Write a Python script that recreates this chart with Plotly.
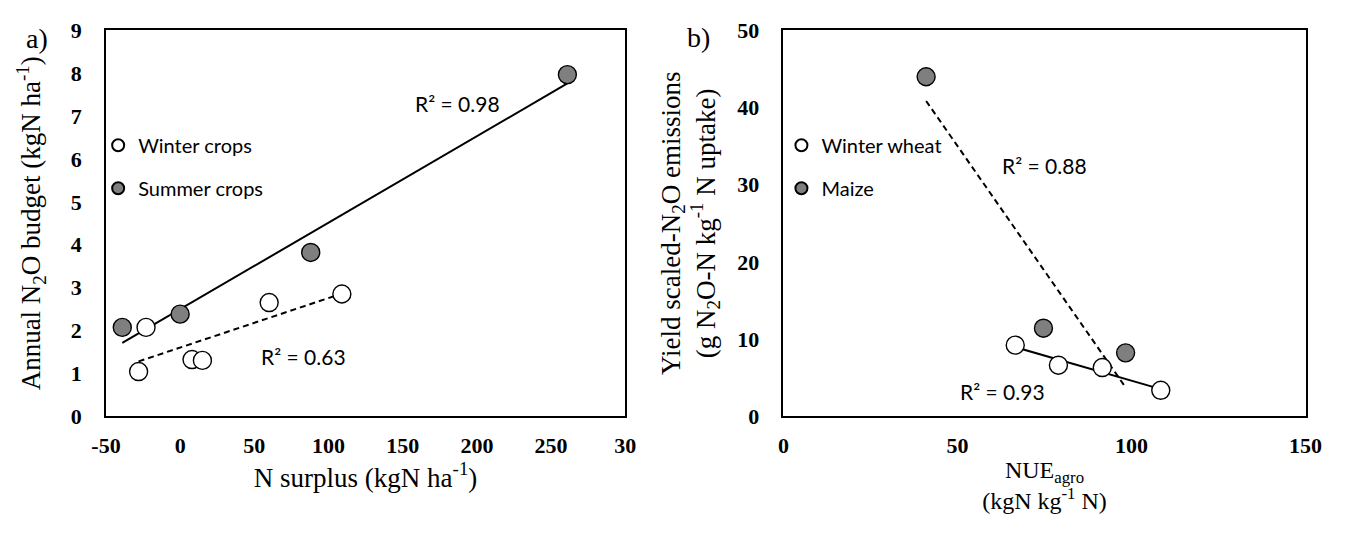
import numpy as np
import plotly.graph_objects as go

# panel a: N surplus vs annual N2O budget
winter_crops_x = [-28, -23, 8, 15, 60, 109]
winter_crops_y = [1.04, 2.07, 1.32, 1.30, 2.65, 2.85]
summer_crops_x = [-39, 0, 88, 261]
summer_crops_y = [2.07, 2.38, 3.82, 7.97]

# panel b: NUE agro vs yield scaled N2O emissions
wheat_x = [66.6, 79, 91.6, 108.4]
wheat_y = [9.2, 6.6, 6.3, 3.35]
maize_x = [41, 74.7, 98.3]
maize_y = [44.0, 11.4, 8.2]

a_xticks = [-50, 0, 50, 100, 150, 200, 250, 300]
a_xticklabels = ['-50', '0', '50', '100', '150', '200', '250', '30']
a_yticks = list(range(0, 10))
b_xticks = [0, 50, 100, 150]
b_yticks = [0, 10, 20, 30, 40, 50]

GREY = '#7f7f7f'
SERIF = 'Liberation Serif'
SANS = 'Lato'

# page has an 8px body margin, so the figure is a bit smaller than the window
W, H = 1339, 523


def fit_line(x, y):
    k, b = np.polyfit(x, y, 1)
    xs = np.array([min(x), max(x)])
    return xs, k * xs + b


fig = go.Figure()

# panel a
xs, ys = fit_line(summer_crops_x, summer_crops_y)
fig.add_trace(go.Scatter(x=xs, y=ys, mode='lines', line=dict(color='black', width=2),
                         showlegend=False, xaxis='x', yaxis='y'))
xs, ys = fit_line(winter_crops_x, winter_crops_y)
fig.add_trace(go.Scatter(x=xs, y=ys, mode='lines', line=dict(color='black', width=2, dash='6px,4px'),
                         showlegend=False, xaxis='x', yaxis='y'))
fig.add_trace(go.Scatter(x=winter_crops_x, y=winter_crops_y, mode='markers', name='Winter crops',
                         marker=dict(size=18, color='white', line=dict(color='black', width=1.4)),
                         xaxis='x', yaxis='y', legend='legend', legendgroup='w'))
fig.add_trace(go.Scatter(x=summer_crops_x, y=summer_crops_y, mode='markers', name='Summer crops',
                         marker=dict(size=18, color=GREY, line=dict(color='black', width=1.4)),
                         xaxis='x', yaxis='y', legend='legend', legendgroup='s'))

# panel b
xs, ys = fit_line(wheat_x, wheat_y)
fig.add_trace(go.Scatter(x=xs, y=ys, mode='lines', line=dict(color='black', width=2),
                         showlegend=False, xaxis='x2', yaxis='y2'))
xs, ys = fit_line(maize_x, maize_y)
fig.add_trace(go.Scatter(x=xs, y=ys, mode='lines', line=dict(color='black', width=2, dash='6px,4px'),
                         showlegend=False, xaxis='x2', yaxis='y2'))
fig.add_trace(go.Scatter(x=wheat_x, y=wheat_y, mode='markers', name='Winter wheat',
                         marker=dict(size=18, color='white', line=dict(color='black', width=1.4)),
                         xaxis='x2', yaxis='y2', legend='legend2', legendgroup='w'))
fig.add_trace(go.Scatter(x=maize_x, y=maize_y, mode='markers', name='Maize',
                         marker=dict(size=18, color=GREY, line=dict(color='black', width=1.4)),
                         xaxis='x2', yaxis='y2', legend='legend2', legendgroup='m'))

axis_style = dict(showline=True, mirror=True, linecolor='black', linewidth=1.5,
                  showgrid=False, zeroline=False, ticks='', ticklabeloverflow='allow',
                  tickfont=dict(family=SERIF, size=22, color='black', weight='bold'))
title_font = dict(family=SERIF, size=27, color='black')

legend_style = dict(font=dict(family=SANS, size=20, color='black'), bgcolor='rgba(0,0,0,0)',
                    traceorder='grouped', tracegroupgap=14, itemsizing='constant',
                    xanchor='left', yanchor='top')

y_dom = [1 - 416 / H, 1 - 11 / H]

fig.update_layout(
    width=W, height=H,
    margin=dict(l=0, r=0, t=0, b=0),
    paper_bgcolor='white', plot_bgcolor='white',
    xaxis=dict(axis_style, domain=[85 / W, 617 / W], range=[-50, 300],
               tickvals=a_xticks, ticktext=a_xticklabels, anchor='y', ticklabelstandoff=9,
               title=dict(text='N surplus (kgN ha<sup>-1</sup>)', font=title_font, standoff=8)),
    yaxis=dict(axis_style, domain=y_dom, range=[0, 9], tickvals=a_yticks,
               anchor='x', ticklabelstandoff=18,
               title=dict(text='Annual N<sub>2</sub>O budget (kgN ha<sup>-1</sup>)', font=title_font, standoff=22)),
    xaxis2=dict(axis_style, domain=[779 / W, 1314 / W], range=[0, 150], tickvals=b_xticks,
                anchor='y2', ticklabelstandoff=9,
                title=dict(text='NUE<sub>agro</sub><br>(kgN kg<sup>-1</sup> N)',
                           font=dict(title_font, size=24), standoff=4)),
    yaxis2=dict(axis_style, domain=y_dom, range=[0, 50], tickvals=b_yticks,
                anchor='x2', ticklabelstandoff=18,
                title=dict(text='Yield scaled-N<sub>2</sub>O emissions<br>(g N<sub>2</sub>O-N kg<sup>-1</sup> N uptake)',
                           font=title_font, standoff=14)),
    legend=dict(legend_style, x=77 / W, y=1 - 111 / H),
    legend2=dict(legend_style, x=777 / W, y=1 - 111 / H),
    showlegend=True,
)

r2_font = dict(family=SANS, size=21, color='black')
fig.add_annotation(x=187, y=7.3, xref='x', yref='y', text='R² = 0.98', showarrow=False, font=r2_font)
fig.add_annotation(x=83, y=1.4, xref='x', yref='y', text='R² = 0.63', showarrow=False, font=r2_font)
fig.add_annotation(x=75, y=32.5, xref='x2', yref='y2', text='R² = 0.88', showarrow=False, font=r2_font)
fig.add_annotation(x=63, y=3.2, xref='x2', yref='y2', text='R² = 0.93', showarrow=False, font=r2_font)

panel_font = dict(family=SERIF, size=28, color='black')
fig.add_annotation(x=14 / W, y=1 - 19 / H, xref='paper', yref='paper', text='a)',
                   showarrow=False, font=panel_font, xanchor='center', yanchor='middle')
fig.add_annotation(x=692 / W, y=1 - 18 / H, xref='paper', yref='paper', text='b)',
                   showarrow=False, font=panel_font, xanchor='center', yanchor='middle')

fig.write_html("out.html")
